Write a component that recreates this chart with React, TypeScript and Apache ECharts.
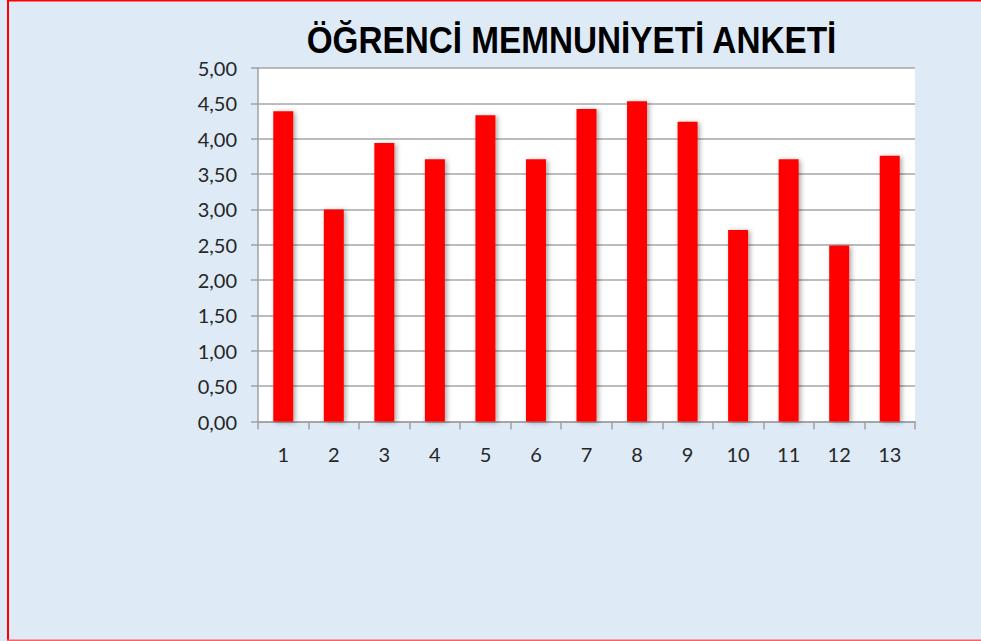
import React, { useEffect, useRef } from "react";
import * as echarts from "echarts";

const titleText = "ÖĞRENCİ MEMNUNİYETİ ANKETİ";
const categories = ["1", "2", "3", "4", "5", "6", "7", "8", "9", "10", "11", "12", "13"];
const scores = [4.39, 3.0, 3.94, 3.71, 4.33, 3.71, 4.42, 4.53, 4.24, 2.71, 3.71, 2.49, 3.76];
const yMin = 0;
const yMax = 5;
const yStep = 0.5;

export default function App() {
  const ref = useRef<HTMLDivElement>(null);
  useEffect(() => {
    document.body.style.margin = "0";
    if (!ref.current) return;
    const chart = echarts.init(ref.current, null, { renderer: "svg" });
    chart.setOption({
      animation: false,
      backgroundColor: "#DEEAF6",
      grid: {
        left: 258,
        top: 68,
        right: 66,
        bottom: 219.5,
        show: true,
        backgroundColor: "#FFFFFF",
        borderWidth: 0,
      },
      graphic: [
        {
          type: "text",
          x: 571.5,
          y: 40,
          scaleX: 0.9,
          style: {
            text: titleText,
            x: 0,
            y: 0,
            textAlign: "center",
            textVerticalAlign: "middle",
            font: "bold 37px 'Liberation Sans', Arial, sans-serif",
            fill: "#000000",
          },
        },
        { type: "rect", shape: { x: 7, y: 0, width: 2, height: 641 }, style: { fill: "#FF0000" }, silent: true },
        { type: "rect", shape: { x: 7, y: 0, width: 974, height: 1.5 }, style: { fill: "#FF0000" }, silent: true },
        { type: "rect", shape: { x: 7, y: 639.5, width: 974, height: 1.5 }, style: { fill: "#FF6060" }, silent: true },
      ],
      xAxis: {
        type: "category",
        data: categories,
        axisLine: { show: true, lineStyle: { color: "#A0A0A0", width: 1.5 } },
        axisTick: { show: true, length: 8, lineStyle: { color: "#A0A0A0", width: 1.5 } },
        axisLabel: { color: "#262626", fontFamily: "Lato", fontSize: 20, margin: 22 },
      },
      yAxis: {
        type: "value",
        min: yMin,
        max: yMax,
        interval: yStep,
        axisLine: { show: true, lineStyle: { color: "#A0A0A0", width: 1.5 } },
        axisTick: { show: true, length: 7, lineStyle: { color: "#A0A0A0", width: 1.5 } },
        axisLabel: {
          color: "#262626",
          fontFamily: "Lato",
          fontSize: 20,
          margin: 21,
          formatter: (v: number) => v.toFixed(2).replace(".", ","),
        },
        splitLine: { show: true, lineStyle: { color: "#A6A6A6", width: 1.5 } },
      },
      series: [
        {
          type: "bar",
          data: scores,
          barWidth: 20,
          itemStyle: {
            color: "#FF0000",
            shadowColor: "rgba(0,0,0,0.35)",
            shadowBlur: 5,
            shadowOffsetX: 2,
            shadowOffsetY: 1,
          },
        },
      ],
    });
    return () => chart.dispose();
  }, []);
  return <div ref={ref} style={{ width: 981, height: 641 }} />;
}
